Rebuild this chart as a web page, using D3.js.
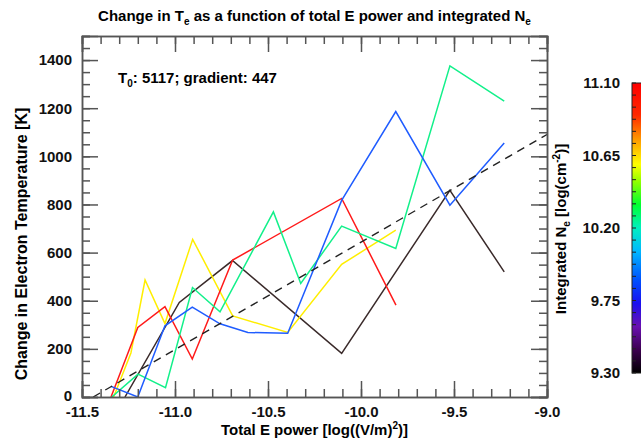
<!DOCTYPE html>
<html>
<head>
<meta charset="utf-8">
<script src="https://cdn.jsdelivr.net/npm/d3@7"></script>
<style>
  body { margin: 0; background: #fff; }
  svg { display: block; font-family: "Liberation Sans", Arial, sans-serif; font-weight: bold; }
  .axis path { stroke: #555; stroke-width: 1.5; }
  .axis line { stroke: #555; stroke-width: 1.5; }
  .axis text { font-size: 15px; font-weight: bold; fill: #111; font-family: "Liberation Sans", Arial, sans-serif; }
</style>
</head>
<body>
<div id="chart"></div>
<script>
// data
var xMajor = [-11.5, -11.0, -10.5, -10.0, -9.5, -9.0];
var yMajor = [0, 200, 400, 600, 800, 1000, 1200, 1400];
var cbTicks = [9.30, 9.75, 10.20, 10.65, 11.10];

var redX = [-11.344, -11.2, -11.054, -10.907, -10.69, -10.104, -9.812];
var redY = [0, 289, 375, 158, 569, 825, 382];
var yellowX = [-11.33, -11.237, -11.161, -11.054, -10.905, -10.69, -10.394, -10.104, -9.813];
var yellowY = [0, 183, 486, 305, 655, 337, 268, 551, 693];
var greenX = [-11.34, -11.199, -11.051, -10.906, -10.758, -10.471, -10.324, -10.104, -9.813, -9.522, -9.23];
var greenY = [0, 95, 39, 455, 354, 769, 472, 710, 617, 1376, 1229];
var blueX = [-11.344, -11.2, -11.054, -10.907, -10.758, -10.608, -10.394, -10.104, -9.813, -9.522, -9.23];
var blueY = [44, 0, 296, 373, 304, 268, 265, 817, 1186, 797, 1055];
var blackX = [-11.269, -10.977, -10.691, -10.104, -9.522, -9.23];
var blackY = [0, 393, 567, 181, 859, 520];

var T0 = 5117, gradient = 447, fitStart = -11.44;

var series = [
  {x: blackX, y: blackY, color: "#3a2a2a"},
  {x: yellowX, y: yellowY, color: "#ffee00"},
  {x: redX, y: redY, color: "#ff1a1a"},
  {x: greenX, y: greenY, color: "#12f08a"},
  {x: blueX, y: blueY, color: "#1f5cff"}
];

var margin = {top: 36, right: 94, bottom: 44, left: 82};
var width = 641 - margin.left - margin.right,
    height = 441 - margin.top - margin.bottom;

var svg = d3.select("#chart").append("svg")
    .attr("width", 641)
    .attr("height", 441);

var g = svg.append("g")
    .attr("transform", "translate(" + margin.left + "," + margin.top + ")");

var x = d3.scaleLinear().domain([-11.5, -9.0]).range([0, width]);
var y = d3.scaleLinear().domain([0, 1500]).range([height, 0]);

g.append("clipPath").attr("id", "clip")
  .append("rect").attr("width", width).attr("height", height);

// lines
var line = d3.line().x(function(d) { return x(d[0]); }).y(function(d) { return y(d[1]); });
var plot = g.append("g").attr("clip-path", "url(#clip)");

series.forEach(function(s) {
    plot.append("path")
        .datum(d3.zip(s.x, s.y))
        .attr("fill", "none")
        .attr("stroke", s.color)
        .attr("stroke-width", 1.5)
        .attr("d", line);
});

// fitted line
plot.append("path")
    .datum([[fitStart, 0], [-9.0, gradient * (-9.0 - fitStart)]])
    .attr("fill", "none")
    .attr("stroke", "#222")
    .attr("stroke-width", 1.4)
    .attr("stroke-dasharray", "8,6")
    .attr("d", line);

// axes: ticks point inward on all four sides
var xMinor = d3.range(-11.5, -8.99, 0.1);
var yMinor = d3.range(0, 1501, 50);

g.append("g").attr("class", "axis")
    .attr("transform", "translate(0," + height + ")")
    .call(d3.axisBottom(x).tickValues(xMinor).tickSize(-8).tickFormat(""));
g.append("g").attr("class", "axis")
    .attr("transform", "translate(0," + height + ")")
    .call(d3.axisBottom(x).tickValues(xMajor).tickSize(-16).tickPadding(9).tickFormat(d3.format(".1f")))
    .selectAll("text").text(function(d) { return d3.format(".1f")(d).replace("\u2212", "-"); });

g.append("g").attr("class", "axis")
    .call(d3.axisTop(x).tickValues(xMinor).tickSize(-8).tickFormat(""));
g.append("g").attr("class", "axis")
    .call(d3.axisTop(x).tickValues(xMajor).tickSize(-16).tickFormat(""));

g.append("g").attr("class", "axis")
    .call(d3.axisLeft(y).tickValues(yMinor).tickSize(-8).tickFormat(""));
var yAx = g.append("g").attr("class", "axis")
    .call(d3.axisLeft(y).tickValues(yMajor).tickSize(-16).tickPadding(10).tickFormat(d3.format("d")));
yAx.selectAll("text").filter(function(d) { return d === 0; }).attr("dy", "0.2em");

g.append("g").attr("class", "axis")
    .attr("transform", "translate(" + width + ",0)")
    .call(d3.axisRight(y).tickValues(yMinor).tickSize(-8).tickFormat(""));
g.append("g").attr("class", "axis")
    .attr("transform", "translate(" + width + ",0)")
    .call(d3.axisRight(y).tickValues(yMajor).tickSize(-16).tickFormat(""));

// title
var title = svg.append("text")
    .attr("x", margin.left + width / 2).attr("y", 21)
    .attr("text-anchor", "middle")
    .style("font-size", "15px");
title.append("tspan").text("Change in T");
title.append("tspan").attr("dy", 4).style("font-size", "10px").text("e");
title.append("tspan").attr("dy", -4).text(" as a function of total E power and integrated N");
title.append("tspan").attr("dy", 4).style("font-size", "10px").text("e");

// annotation
var ann = g.append("text")
    .attr("x", 36).attr("y", 47)
    .style("font-size", "15px");
ann.append("tspan").text("T");
ann.append("tspan").attr("dy", 4).style("font-size", "10px").text("0");
ann.append("tspan").attr("dy", -4).text(": " + T0 + "; gradient: " + gradient);

// axis titles
svg.append("text")
    .attr("x", margin.left + width / 2).attr("y", 435)
    .attr("text-anchor", "middle")
    .style("font-size", "15px")
    .call(function(t) {
        t.append("tspan").text("Total E power [log((V/m)");
        t.append("tspan").attr("dy", -6).style("font-size", "10px").text("2");
        t.append("tspan").attr("dy", 6).text(")]");
    });

svg.append("text")
    .attr("transform", "translate(27,244) rotate(-90)")
    .attr("text-anchor", "middle")
    .style("font-size", "16px")
    .text("Change in Electron Temperature [K]");

svg.append("text")
    .attr("transform", "translate(566,229) rotate(-90)")
    .attr("text-anchor", "middle")
    .style("font-size", "15px")
    .call(function(t) {
        t.append("tspan").text("Integrated N");
        t.append("tspan").attr("dy", 4).style("font-size", "10px").text("e");
        t.append("tspan").attr("dy", -4).text(" [log(cm");
        t.append("tspan").attr("dy", -6).style("font-size", "10px").text("-2");
        t.append("tspan").attr("dy", 6).text(")]");
    });

// colour bar
var cb = d3.scaleLinear().domain([9.30, 11.10]).range([373, 83]);
var stops = [
  [0.00, "#000000"], [0.08, "#3c0050"], [0.16, "#6a10b0"], [0.24, "#1a10f0"],
  [0.32, "#0050ff"], [0.42, "#00b8ff"], [0.50, "#00f0c0"], [0.58, "#00ff30"],
  [0.66, "#90ff00"], [0.72, "#ffff00"], [0.80, "#ffa000"], [0.89, "#ff2800"],
  [1.00, "#ff0000"]
];
var grad = svg.append("defs").append("linearGradient")
    .attr("id", "cbgrad").attr("x1", 0).attr("y1", 1).attr("x2", 0).attr("y2", 0);
stops.forEach(function(s) {
    grad.append("stop").attr("offset", s[0]).attr("stop-color", s[1]);
});
svg.append("rect")
    .attr("x", 632).attr("y", cb(11.10))
    .attr("width", 20).attr("height", cb(9.30) - cb(11.10))
    .attr("fill", "url(#cbgrad)")
    .attr("stroke", "#222").attr("stroke-width", 1);

var cbAxis = svg.append("g").attr("class", "axis cbaxis")
    .attr("transform", "translate(632,0)")
    .call(d3.axisLeft(cb).tickValues(cbTicks).tickSize(0).tickPadding(12).tickFormat(d3.format(".2f")));
cbAxis.select(".domain").remove();
svg.append("g").attr("transform", "translate(632,0)")
    .selectAll("line").data(d3.range(9.30, 11.101, 0.075)).enter().append("line")
    .attr("x1", 0).attr("x2", 4)
    .attr("y1", function(d) { return cb(d); }).attr("y2", function(d) { return cb(d); })
    .attr("stroke", "#222").attr("stroke-width", 1);
</script>
</body>
</html>
